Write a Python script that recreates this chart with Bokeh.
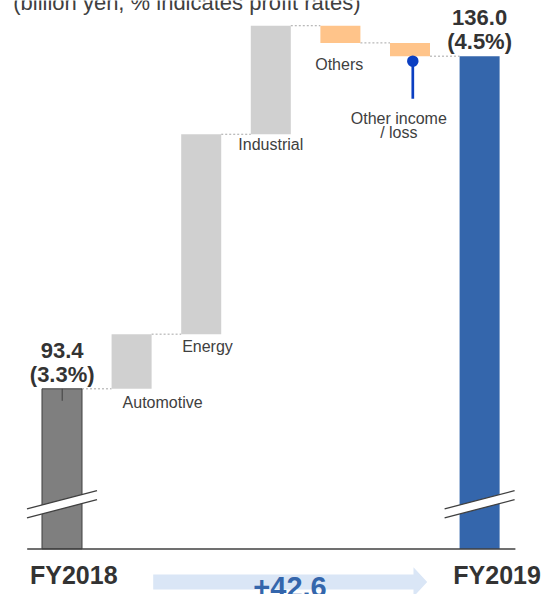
from bokeh.plotting import figure
from bokeh.models import Range1d
from bokeh.core.properties import value
from bokeh.embed import file_html
from bokeh.resources import INLINE

# ---------------- data ----------------
title_text = "(billion yen, % indicates profit rates)"
start_label = "FY2018"
end_label = "FY2019"
start_value = 93.4
start_rate = "3.3%"
end_rate = "4.5%"
segments = ["Automotive", "Energy", "Industrial", "Others", "Other income\n/ loss"]
deltas = [7.0, 25.6, 13.9, -2.2, -1.7]

# ---------------- layout / style ----------------
W, H = 546, 594
X_START, X_END = -0.8836, 6.9612
Y_START, Y_END = 67.06, 143.13
SX = W / (X_END - X_START)
SY = H / (Y_END - Y_START)
BASE = 72.9          # floor of the broken axis
BAR_W = 0.575
FONT = "Liberation Sans"

C_START = "#7F7F7F"
C_END = "#3466AC"
C_UP = "#D0D0D0"
C_DOWN = "#FFC48A"
C_TEXT = "#333333"
C_LABEL = "#404040"


def dx(px):
    return px / SX


def dy(px):
    return px / SY


def px_x(px):
    return X_START + px / SX


def px_y(py):
    return Y_END - py / SY


# cumulative levels
levels = [start_value]
for d in deltas:
    levels.append(round(levels[-1] + d, 1))
end_value = levels[-1]
n = len(segments) + 2
xs = list(range(n))

bottoms = [BASE] + levels[:-1] + [BASE]
tops = [start_value] + levels[1:] + [end_value]
colors = [C_START] + [C_UP if d >= 0 else C_DOWN for d in deltas] + [C_END]
line_alpha = [1] + [0] * len(deltas) + [0]

p = figure(width=W, height=H, x_range=Range1d(X_START, X_END),
           y_range=Range1d(Y_START, Y_END), output_backend="svg",
           toolbar_location=None, min_border=0,
           x_axis_location=None, y_axis_location=None)
p.grid.visible = False
p.outline_line_color = None
p.background_fill_color = "white"
p.border_fill_color = "white"

# connectors
for i in range(n - 1):
    lvl = levels[i] if i < len(levels) else end_value
    p.segment(x0=[i + BAR_W / 2], y0=[lvl], x1=[i + 1 - BAR_W / 2], y1=[lvl],
              line_color="#A6A6A6", line_width=1, line_dash="2 2")

# bars
p.vbar(x=xs, width=BAR_W, top=tops, bottom=bottoms, fill_color=colors,
       line_color="#404040", line_alpha=line_alpha, line_width=1)

# leader tick inside start bar
p.segment(x0=[0 + dx(0.2)], y0=[start_value], x1=[0 + dx(0.2)], y1=[start_value - dy(12)],
          line_color="#404040", line_width=1)

# axis baseline
p.segment(x0=[0 - dx(34.8)], y0=[BASE], x1=[n - 1 + dx(35.8)], y1=[BASE],
          line_color="#404040", line_width=1.5)

# break marks
for cx in [0, n - 1]:
    L, R = cx - dx(35), cx + dx(35)
    p.patch([L, R, R, L], [BASE + dy(40), BASE + dy(58.3), BASE + dy(49.3), BASE + dy(31)],
            fill_color="white", line_color=None)
    p.line([L, R], [BASE + dy(40), BASE + dy(58.3)], line_color="#404040", line_width=1.3)
    p.line([L, R], [BASE + dy(31), BASE + dy(49.3)], line_color="#404040", line_width=1.3)

# value labels
vx = [0 + dx(0.2), n - 1]
vt = [start_value, end_value]
p.text(x=vx, y=[t + dy(38.2) for t in vt], text=[f"{start_value:.1f}", f"{end_value:.1f}"],
       text_font=value(FONT), text_font_size=value("22px"), text_font_style="bold",
       text_color=C_TEXT, text_align="center", text_baseline="middle")
p.text(x=vx, y=[t + dy(14.2) for t in vt], text=[f"({start_rate})", f"({end_rate})"],
       text_font=value(FONT), text_font_size=value("22px"), text_font_style="bold",
       text_color=C_TEXT, text_align="center", text_baseline="middle")

# category labels
LABEL_DX = [31, 6.3, 0, -1.2, -11.2]
LABEL_DY = [13.4, 12.6, 9.8, 21.6, 62.2]
LINE_H = 14.1
lx, ly, lt = [], [], []
for i, name in enumerate(segments):
    anchor = min(bottoms[i + 1], tops[i + 1])
    for k, line in enumerate(name.split("\n")):
        lx.append(i + 1 + dx(LABEL_DX[i]))
        ly.append(anchor - dy(LABEL_DY[i] + k * LINE_H))
        lt.append(line)
p.text(x=lx, y=ly, text=lt, text_font=value(FONT), text_font_size=value("16px"),
       text_color=C_LABEL, text_align="center", text_baseline="middle")

# pin on "Other income / loss"
pin_x = len(segments) + dx(2.8)
pin_y = levels[-1]
p.segment(x0=[pin_x], y0=[pin_y - dy(5)], x1=[pin_x], y1=[pin_y - dy(42.6)],
          line_color="#0B3FC2", line_width=2.7)
p.scatter(x=[pin_x], y=[pin_y - dy(5)], size=11.5, fill_color="#0B3FC2", line_color=None)

# FY labels
p.text(x=[0 + dx(11.8), n - 1 + dx(17.5)], y=[BASE - dy(26.2)] * 2,
       text=[start_label, end_label], text_font=value(FONT), text_font_size=value("25px"),
       text_font_style="bold", text_color=C_TEXT, text_align="center",
       text_baseline="middle")

# growth arrow
ax = [152.7, 413, 413, 426.7, 413, 413, 152.7]
ay = [574, 574, 566.7, 581.5, 596.3, 589, 589]
p.patch([px_x(a) for a in ax], [px_y(b) for b in ay], fill_color="#DAE6F6", line_color=None)
p.text(x=[px_x(289.5)], y=[px_y(586.4)], text=[f"+{end_value - start_value:.1f}"],
       text_font=value(FONT), text_font_size=value("29px"), text_font_style="bold",
       text_color="#3466AC", text_align="center", text_baseline="middle")

# unit note
p.text(x=[px_x(12.7)], y=[px_y(1.6)], text=[title_text], text_font=value(FONT),
       text_font_size=value("22px"), text_color=C_LABEL, text_align="left",
       text_baseline="middle")

open("out.html", "w").write(file_html(p, INLINE))
